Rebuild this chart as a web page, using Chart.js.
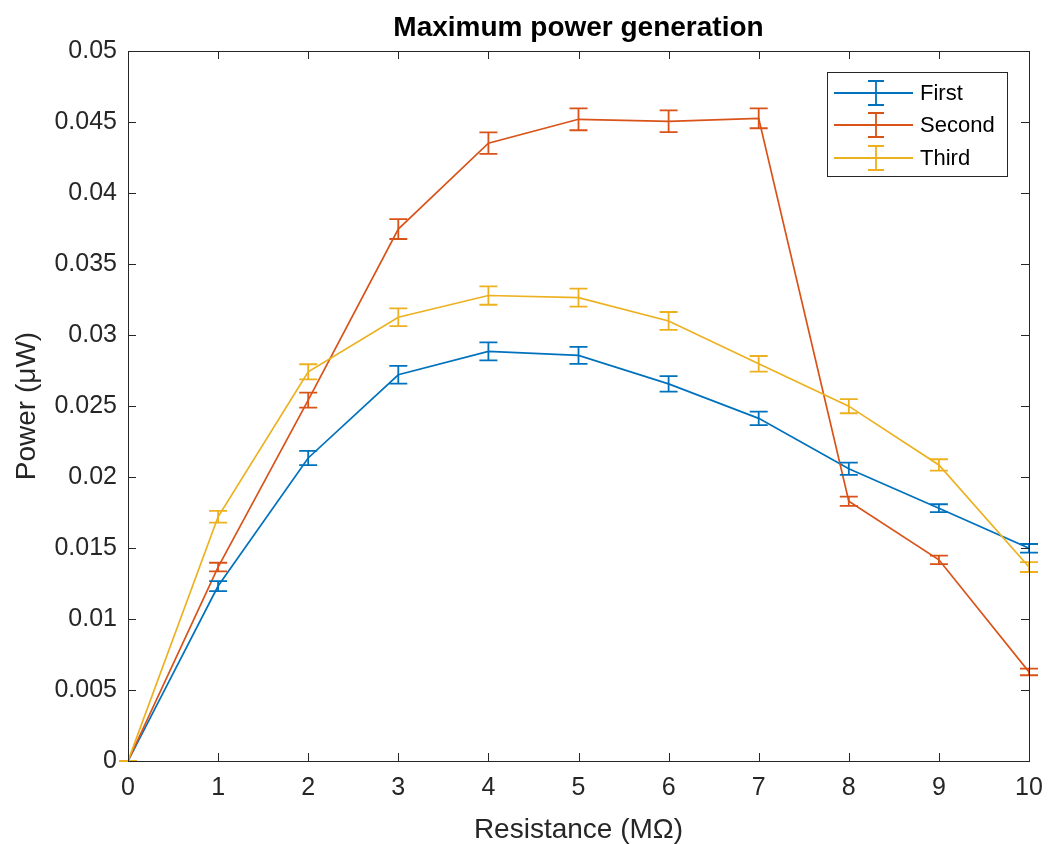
<!DOCTYPE html>
<html>
<head>
<meta charset="utf-8">
<script src="https://cdn.jsdelivr.net/npm/chart.js@4.4.1/dist/chart.umd.min.js"></script>
<style>
  html, body { margin: 0; padding: 0; background: #ffffff; }
  #wrap { width: 1048px; height: 844px; }
</style>
</head>
<body>
<div id="wrap"><canvas id="c" width="1048" height="844"></canvas></div>
<script>
// ---- data ----
const resistance = [0, 1, 2, 3, 4, 5, 6, 7, 8, 9, 10];
const seriesNames = ['First', 'Second', 'Third'];
const firstValues  = [0, 0.01232, 0.02134, 0.0272, 0.02885, 0.02856, 0.02656, 0.02413, 0.02058, 0.0178, 0.01498];
const firstErrors  = [0, 0.00035, 0.0005, 0.00063, 0.00063, 0.0006, 0.00055, 0.00047, 0.00043, 0.00028, 0.0003];
const secondValues = [0, 0.01366, 0.02541, 0.03746, 0.04351, 0.04519, 0.04505, 0.04526, 0.01829, 0.01417, 0.00627];
const secondErrors = [0, 0.0003, 0.00053, 0.0007, 0.00076, 0.00077, 0.00077, 0.0007, 0.00033, 0.0003, 0.00023];
const thirdValues  = [0, 0.0172, 0.02741, 0.03125, 0.03278, 0.03263, 0.03099, 0.02797, 0.02499, 0.02085, 0.01366];
const thirdErrors  = [0, 0.00042, 0.00053, 0.00063, 0.00065, 0.00063, 0.00063, 0.00055, 0.0005, 0.0004, 0.00035];
const xTickLabels = ['0', '1', '2', '3', '4', '5', '6', '7', '8', '9', '10'];
const yTickLabels = ['0', '0.005', '0.01', '0.015', '0.02', '0.025', '0.03', '0.035', '0.04', '0.045', '0.05'];
const chartTitle = 'Maximum power generation';

const colors = ['#0072BD', '#D95319', '#EDB120'];
const FONT = '"Liberation Sans", Arial, Helvetica, sans-serif';
const AXIS_COLOR = '#262626';

function toPoints(vals) { return vals.map((v, i) => ({ x: resistance[i], y: v })); }

const valueSets = [firstValues, secondValues, thirdValues];
const errorSets = [firstErrors, secondErrors, thirdErrors];

// ---- plugins ----
const axesTitle = {
  id: 'axesTitle',
  afterDraw(chart) {
    const { ctx, chartArea: a } = chart;
    ctx.save();
    ctx.fillStyle = '#000000';
    ctx.font = 'bold 28px ' + FONT;
    ctx.textAlign = 'center';
    ctx.textBaseline = 'middle';
    ctx.fillText(chartTitle, (a.left + a.right) / 2, 28);
    ctx.restore();
  }
};

const boxAndTicks = {
  id: 'boxAndTicks',
  afterDraw(chart) {
    const { ctx, chartArea: a, scales } = chart;
    const tl = 8;
    ctx.save();
    ctx.strokeStyle = AXIS_COLOR;
    ctx.lineWidth = 1;
    ctx.beginPath();
    scales.x.ticks.forEach(t => {
      const px = Math.round(scales.x.getPixelForValue(t.value)) + 0.5;
      ctx.moveTo(px, a.bottom); ctx.lineTo(px, a.bottom - tl);
      ctx.moveTo(px, a.top); ctx.lineTo(px, a.top + tl);
    });
    scales.y.ticks.forEach(t => {
      const py = Math.round(scales.y.getPixelForValue(t.value)) + 0.5;
      ctx.moveTo(a.left, py); ctx.lineTo(a.left + tl, py);
      ctx.moveTo(a.right, py); ctx.lineTo(a.right - tl, py);
    });
    ctx.stroke();
    ctx.strokeRect(Math.round(a.left) + 0.5, Math.round(a.top) + 0.5,
                   Math.round(a.right - a.left), Math.round(a.bottom - a.top));
    ctx.restore();
  }
};

const errorBars = {
  id: 'errorBars',
  afterDatasetsDraw(chart) {
    const { ctx, scales } = chart;
    const cap = 9;
    ctx.save();
    ctx.lineWidth = 1.8;
    chart.data.datasets.forEach((ds, di) => {
      const errs = errorSets[di];
      ctx.strokeStyle = ds.borderColor;
      ctx.beginPath();
      ds.data.forEach((p, i) => {
        const px = scales.x.getPixelForValue(p.x);
        const top = scales.y.getPixelForValue(p.y + errs[i]);
        const bot = scales.y.getPixelForValue(p.y - errs[i]);
        ctx.moveTo(px, top); ctx.lineTo(px, bot);
        ctx.moveTo(px - cap, top); ctx.lineTo(px + cap, top);
        ctx.moveTo(px - cap, bot); ctx.lineTo(px + cap, bot);
      });
      ctx.stroke();
    });
    ctx.restore();
  }
};

const matlabLegend = {
  id: 'matlabLegend',
  afterDraw(chart) {
    const { ctx } = chart;
    const bx = 827, by = 72, bw = 180, bh = 104;
    ctx.save();
    ctx.fillStyle = '#ffffff';
    ctx.fillRect(bx, by, bw, bh);
    ctx.strokeStyle = AXIS_COLOR;
    ctx.lineWidth = 1;
    ctx.strokeRect(bx + 0.5, by + 0.5, bw, bh);
    const rows = [93, 125, 158];
    chart.data.datasets.forEach((ds, i) => {
      const y = rows[i];
      ctx.strokeStyle = ds.borderColor;
      ctx.lineWidth = 1.8;
      ctx.beginPath();
      ctx.moveTo(834, y); ctx.lineTo(913, y);
      ctx.moveTo(876, y - 12); ctx.lineTo(876, y + 12);
      ctx.moveTo(868, y - 12); ctx.lineTo(884, y - 12);
      ctx.moveTo(868, y + 12); ctx.lineTo(884, y + 12);
      ctx.stroke();
      ctx.fillStyle = '#000000';
      ctx.font = '22px ' + FONT;
      ctx.textAlign = 'left';
      ctx.textBaseline = 'middle';
      ctx.fillText(ds.label, 920, y + 1);
    });
    ctx.restore();
  }
};

const datasets = seriesNames.map((name, i) => ({
  label: name,
  data: toPoints(valueSets[i]),
  borderColor: colors[i],
  backgroundColor: colors[i],
  borderWidth: 1.7,
  pointRadius: 0,
  pointHoverRadius: 0,
  tension: 0,
  fill: false,
  order: 2 - i
}));

new Chart(document.getElementById('c'), {
  type: 'line',
  data: { datasets },
  options: {
    responsive: false,
    animation: false,
    devicePixelRatio: 1,
    layout: { padding: { left: 0, right: 19, top: 51, bottom: 0 } },
    plugins: {
      legend: { display: false },
      tooltip: { enabled: false },
      title: { display: false }
    },
    scales: {
      x: {
        type: 'linear',
        min: 0, max: 10,
        afterFit(s) { s.height = 83; s.paddingLeft = 0; s.paddingRight = 0; },
        afterBuildTicks(s) { s.ticks = resistance.map(v => ({ value: v })); },
        ticks: {
          color: AXIS_COLOR,
          font: { family: FONT, size: 25 },
          padding: 12,
          maxRotation: 0,
          autoSkip: false,
          callback: (v, i) => xTickLabels[i]
        },
        grid: { display: false, drawTicks: false },
        border: { display: false },
        title: {
          display: true,
          text: 'Resistance (MΩ)',
          color: AXIS_COLOR,
          font: { family: FONT, size: 28, lineHeight: 1.2 },
          padding: { top: 0, bottom: -3 }
        }
      },
      y: {
        type: 'linear',
        min: 0, max: 0.05,
        afterFit(s) { s.width = 128; s.paddingTop = 0; s.paddingBottom = 0; },
        afterBuildTicks(s) { s.ticks = yTickLabels.map(l => ({ value: parseFloat(l) })); },
        ticks: {
          color: AXIS_COLOR,
          font: { family: FONT, size: 25 },
          padding: 11,
          autoSkip: false,
          callback: (v, i) => yTickLabels[i]
        },
        grid: { display: false, drawTicks: false },
        border: { display: false },
        title: {
          display: true,
          text: 'Power (μW)',
          color: AXIS_COLOR,
          font: { family: FONT, size: 28, lineHeight: 1.2 },
          padding: { top: 10, bottom: 0 }
        }
      }
    }
  },
  plugins: [errorBars, boxAndTicks, matlabLegend, axesTitle]
});
</script>
</body>
</html>
